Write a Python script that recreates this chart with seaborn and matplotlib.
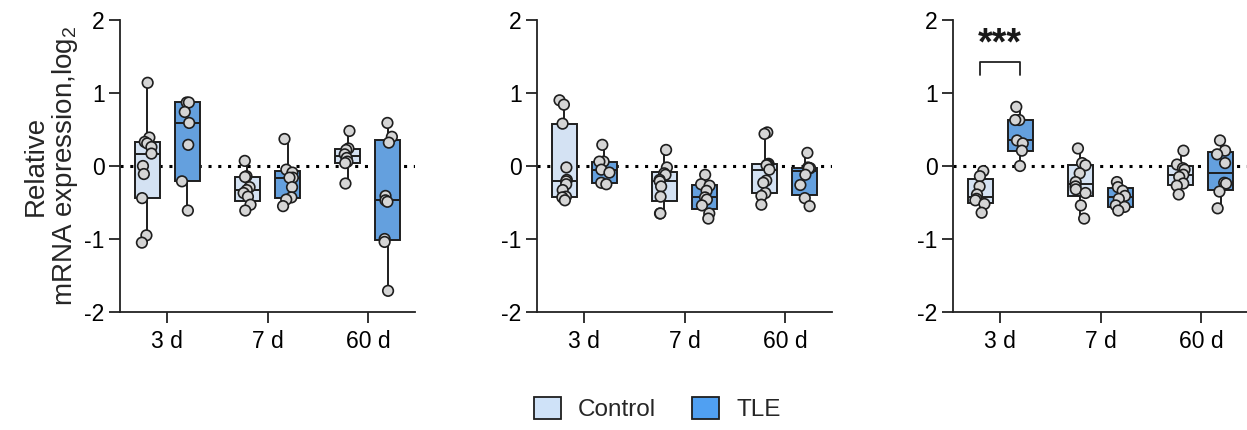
import numpy as np
import pandas as pd
import matplotlib
matplotlib.use("Agg")
import matplotlib.pyplot as plt
import matplotlib.cbook as cbook
from matplotlib.patches import Patch
import seaborn as sns

# ---------------- data ----------------
days = ["3 d", "7 d", "60 d"]
groups = ["Control", "TLE"]

# panel 1
p1_c3 = [1.14, 0.39, 0.33, 0.31, 0.26, 0.17, 0.0, -0.11, -0.44, -0.95, -1.05]
p1_t3 = [0.87, 0.87, 0.74, 0.59, 0.29, -0.21, -0.61]
p1_c7 = [0.07, -0.14, -0.15, -0.29, -0.33, -0.37, -0.42, -0.53, -0.61]
p1_t7 = [0.37, -0.05, -0.09, -0.16, -0.16, -0.29, -0.43, -0.46, -0.55]
p1_c60 = [0.48, 0.24, 0.22, 0.16, 0.11, 0.06, 0.04, -0.24]
p1_t60 = [0.59, 0.40, 0.32, -0.41, -0.47, -0.49, -1.00, -1.04, -1.71]

# panel 2
p2_c3 = [0.90, 0.84, 0.58, -0.02, -0.19, -0.21, -0.25, -0.33, -0.42, -0.43, -0.47]
p2_t3 = [0.29, 0.06, 0.06, -0.05, -0.09, -0.23, -0.25]
p2_c7 = [0.22, -0.02, -0.10, -0.12, -0.19, -0.21, -0.28, -0.42, -0.65, -0.65]
p2_t7 = [-0.12, -0.25, -0.27, -0.34, -0.43, -0.46, -0.54, -0.65, -0.72]
p2_c60 = [0.46, 0.44, 0.03, 0.02, 0.01, -0.05, -0.20, -0.23, -0.37, -0.41, -0.53]
p2_t60 = [0.18, -0.02, -0.03, -0.03, -0.12, -0.26, -0.44, -0.55]

# panel 3
p3_c3 = [-0.07, -0.14, -0.28, -0.39, -0.45, -0.47, -0.52, -0.64]
p3_t3 = [0.81, 0.63, 0.63, 0.35, 0.31, 0.21, 0.0]
p3_c7 = [0.24, 0.04, 0.01, -0.10, -0.22, -0.28, -0.32, -0.37, -0.54, -0.72]
p3_t7 = [-0.22, -0.29, -0.34, -0.41, -0.45, -0.54, -0.56, -0.61]
p3_c60 = [0.21, 0.02, -0.03, -0.05, -0.12, -0.15, -0.24, -0.27, -0.39]
p3_t60 = [0.35, 0.21, 0.16, 0.04, -0.23, -0.24, -0.35, -0.58]

panels = [
    {"3 d": (p1_c3, p1_t3), "7 d": (p1_c7, p1_t7), "60 d": (p1_c60, p1_t60)},
    {"3 d": (p2_c3, p2_t3), "7 d": (p2_c7, p2_t7), "60 d": (p2_c60, p2_t60)},
    {"3 d": (p3_c3, p3_t3), "7 d": (p3_c7, p3_t7), "60 d": (p3_c60, p3_t60)},
]

yticks = [-2, -1, 0, 1, 2]
ytick_labels = ["-2", "-1", "0", "1", "2"]
ylabel = "Relative\nmRNA expression,log$_2$"
sig_text = "***"

# ---------------- quartiles like GraphPad (Weibull / n+1 method) ----------------
_orig_stats = cbook.boxplot_stats


def _as_list(X):
    if isinstance(X, (list, tuple)) and len(X) > 0 and np.iterable(X[0]):
        return [np.asarray(x, dtype=float) for x in X]
    arr = np.asarray(X, dtype=float)
    if arr.ndim == 2:
        return [arr[:, j] for j in range(arr.shape[1])]
    return [arr]


def _weibull_stats(X, whis=1.5, bootstrap=None, labels=None, autorange=False):
    res = _orig_stats(X, whis=whis, bootstrap=bootstrap, labels=labels, autorange=autorange)
    for r, x in zip(res, _as_list(X)):
        if len(x) > 1:
            q1, med, q3 = np.percentile(x, [25, 50, 75], method="weibull")
            r["q1"], r["med"], r["q3"] = q1, med, q3
            r["iqr"] = q3 - q1
    return res


cbook.boxplot_stats = _weibull_stats
matplotlib.cbook.boxplot_stats = _weibull_stats

# ---------------- style ----------------
sns.set_theme(style="ticks")
plt.rcParams["font.family"] = ["Liberation Sans", "DejaVu Sans"]
plt.rcParams["axes.unicode_minus"] = False
plt.rcParams["mathtext.default"] = "regular"

palette = {"Control": "#cfe2f8", "TLE": "#50a0f2"}
pt_palette = {"Control": "#d5d5d5", "TLE": "#d5d5d5"}
edge = "#1e1e1e"

np.random.seed(3)  # horizontal jitter of the dots only

fig = plt.figure(figsize=(12.47, 4.30), dpi=100)
lefts = [120 / 1247, 537 / 1247, 953 / 1247]
bottom = 1 - 312 / 430
height = 292 / 430
width = 295 / 1247

for i, pdata in enumerate(panels):
    rows = []
    for d in days:
        for g, vals in zip(groups, pdata[d]):
            for v in vals:
                rows.append({"day": d, "group": g, "value": v})
    df = pd.DataFrame(rows)

    ax = fig.add_axes([lefts[i], bottom, width, height])
    ax.axhline(0, color="black", lw=2.2, ls=(0, (1, 2.2)), zorder=0.5)
    sns.boxplot(data=df, x="day", y="value", hue="group", order=days,
                hue_order=groups, palette=palette, whis=(0, 100),
                showfliers=False, gap=0.375, linewidth=1.4, linecolor=edge,
                capprops=dict(linewidth=0), legend=False, ax=ax, zorder=2)
    sns.stripplot(data=df, x="day", y="value", hue="group", order=days,
                  hue_order=groups, palette=pt_palette, dodge=True, jitter=0.11,
                  size=7.6, edgecolor=edge, linewidth=1.2, legend=False, ax=ax,
                  zorder=3)

    ax.set_ylim(-2, 2)
    ax.set_xlim(-0.47, 2.47)
    ax.set_yticks(yticks)
    ax.set_yticklabels(ytick_labels)
    ax.set_xlabel("")
    ax.set_ylabel("")
    for s in ["top", "right"]:
        ax.spines[s].set_visible(False)
    for s in ["left", "bottom"]:
        ax.spines[s].set_linewidth(1.3)
        ax.spines[s].set_color("#222222")
    ax.tick_params(axis="both", direction="out", length=8, width=1.3,
                   color="#222222", labelsize=16.5, labelcolor="black")
    ax.tick_params(axis="x", pad=5)
    ax.tick_params(axis="y", pad=3)

    if i == 0:
        ax.set_ylabel(ylabel, fontsize=20, labelpad=3, linespacing=1.05)
    if i == 2:
        ax.plot([-0.2, -0.2, 0.2, 0.2], [1.24, 1.43, 1.43, 1.24],
                color="#222222", lw=1.3, clip_on=False)
        ax.text(0, 1.66, sig_text, ha="center", va="center", fontsize=27,
                fontweight="bold", color="#1a1a1a")

handles = [Patch(facecolor=palette[g], edgecolor=edge, linewidth=1.3, label=g)
           for g in groups]
fig.legend(handles=handles, loc="center", bbox_to_anchor=(0.527, 1 - 409 / 430),
           ncol=2, frameon=False, fontsize=17.5, handlelength=1.1,
           handleheight=1.0, handletextpad=0.7, columnspacing=1.5)

fig.savefig("out.png", dpi=100)
